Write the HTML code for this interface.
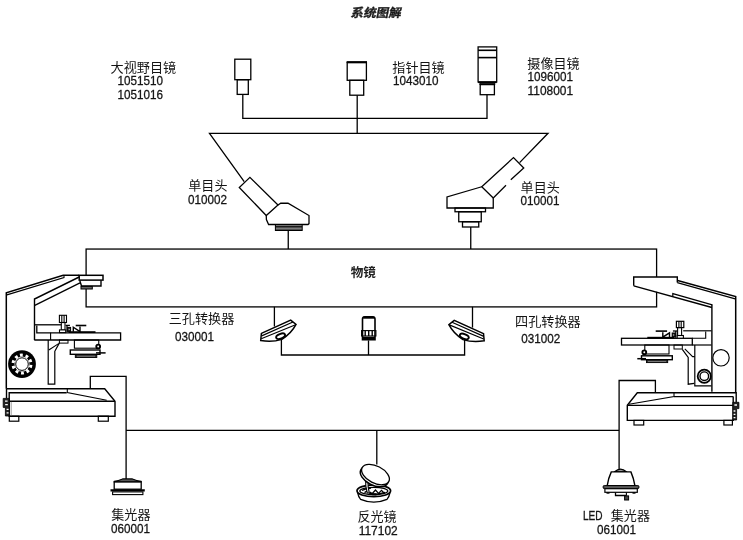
<!DOCTYPE html>
<html lang="zh"><head><meta charset="utf-8"><title>系统图解</title><style>html,body{margin:0;padding:0;background:#fff;}body{width:743px;height:540px;overflow:hidden;font-family:"Liberation Sans",sans-serif;}svg{display:block;will-change:transform;} </style></head><body>
<svg width="743" height="540" viewBox="0 0 743 540" font-family="'Liberation Sans', sans-serif" stroke="#000" stroke-linecap="butt" stroke-linejoin="miter"><g><text x="351.56" y="16.52" font-size="12" font-weight="bold" font-family="'Liberation Sans', 'Noto Sans CJK SC', sans-serif" textLength="50.25" lengthAdjust="spacingAndGlyphs" fill="#1a1a1a" stroke="#1a1a1a" stroke-width="0.35" transform="translate(0,11.72) skewX(-11) translate(0,-11.72)">系统图解</text>
<rect x="234.80" y="59.20" width="16.00" height="20.50" fill="none" stroke-width="1.3"/>
<rect x="237.20" y="79.70" width="11.10" height="14.70" fill="none" stroke-width="1.3"/>
<path d="M242.80 94.40 L242.80 118.30 L487.00 118.30 L487.00 94.70" fill="none" stroke-width="1.3" />
<rect x="347.20" y="62.60" width="19.20" height="17.70" fill="none" stroke-width="1.3"/>
<path d="M346.60 62.10 L367.00 62.10" fill="none" stroke-width="2.0" />
<rect x="349.80" y="80.30" width="13.90" height="14.90" fill="none" stroke-width="1.3"/>
<path d="M357.20 95.20 L357.20 133.30" fill="none" stroke-width="1.3" />
<rect x="478.10" y="46.90" width="18.60" height="35.10" fill="none" stroke-width="1.3"/>
<path d="M478.10 50.30 L496.70 50.30" fill="none" stroke-width="1.6" />
<path d="M478.10 57.60 L496.70 57.60" fill="none" stroke-width="1.6" />
<path d="M478.10 82.20 L496.70 82.20" fill="none" stroke-width="1.8" />
<rect x="479.90" y="83.20" width="14.90" height="1.40" fill="#222" stroke-width="0.8"/>
<rect x="480.20" y="84.60" width="14.20" height="10.10" fill="none" stroke-width="1.3"/>
<path d="M244.20 181.60 L209.50 133.30 L548.00 133.30 L519.60 162.60" fill="none" stroke-width="1.3" />
<path d="M249.90 177.40 L239.30 187.50 L266.25 215.50 L278.00 205.00Z" fill="none" stroke-width="1.3" />
<path d="M278.00 205.00 L280.75 203.25 L288.00 203.25 L309.00 215.50 L309.00 223.60 L308.00 224.50 L268.60 224.50 L266.40 219.50 L266.25 215.50" fill="none" stroke-width="1.3" />
<rect x="275.40" y="225.00" width="26.80" height="5.50" fill="#fff" stroke-width="1.0"/>
<path d="M275.40 226.40 L302.20 226.40" fill="none" stroke-width="1.0" />
<path d="M275.40 227.80 L302.20 227.80" fill="none" stroke-width="1.0" />
<path d="M275.40 229.20 L302.20 229.20" fill="none" stroke-width="1.0" />
<path d="M288.25 230.50 L288.25 249.05" fill="none" stroke-width="1.3" />
<path d="M493.25 198.00 L481.75 186.75 L513.50 157.60 L523.75 168.00 L510.80 179.80" fill="none" stroke-width="1.3" />
<path d="M506.00 185.20 L493.25 198.00" fill="none" stroke-width="1.3" />
<path d="M481.75 186.75 L447.00 197.00 L447.00 208.00 L493.25 208.00 L493.25 198.00" fill="none" stroke-width="1.3" />
<rect x="455.00" y="208.00" width="30.50" height="3.75" fill="none" stroke-width="1.3"/>
<rect x="458.75" y="211.75" width="22.50" height="10.00" fill="none" stroke-width="1.3"/>
<rect x="462.50" y="221.75" width="16.25" height="5.25" fill="none" stroke-width="1.3"/>
<path d="M470.75 227.00 L470.75 249.05" fill="none" stroke-width="1.3" />
<rect x="86.10" y="249.05" width="570.50" height="57.85" fill="none" stroke-width="1.3"/>
<path d="M274.40 306.80 L274.40 326.50" fill="none" stroke-width="1.3" />
<path d="M472.50 306.80 L472.50 327.60" fill="none" stroke-width="1.3" />
<path d="M281.40 338.30 L281.40 355.00 L464.60 355.00 L464.60 338.80" fill="none" stroke-width="1.3" />
<path d="M368.50 340.40 L368.50 355.00" fill="none" stroke-width="1.3" />
<g><path d="M261.4 333.4 L290.7 320.1 L296.05 324.45 Q291.5 333.2 281.9 339.4 Q272 342.6 260.7 340.6 Z" fill="#fff" stroke-width="1.5"/><path d="M261.7 335.9 L292.9 322.0 M261.2 338.8 L295.6 324.7" fill="none" stroke-width="1.15"/><ellipse cx="280.6" cy="336.2" rx="4.7" ry="2.3" transform="rotate(-22 280.6 336.2)" fill="#fff" stroke-width="1.9"/></g>
<g transform="translate(744.9,0.2) scale(-1,1)"><path d="M261.4 333.4 L290.7 320.1 L296.05 324.45 Q291.5 333.2 281.9 339.4 Q272 342.6 260.7 340.6 Z" fill="#fff" stroke-width="1.5"/><path d="M261.7 335.9 L292.9 322.0 M261.2 338.8 L295.6 324.7" fill="none" stroke-width="1.15"/><ellipse cx="280.6" cy="336.2" rx="4.7" ry="2.3" transform="rotate(-22 280.6 336.2)" fill="#fff" stroke-width="1.9"/></g>
<path d="M362.5 339.8 L362.5 319 Q362.5 316.8 365 316.8 L372.5 316.8 Q375 316.8 375 319 L375 339.8 Z" fill="#fff" stroke-width="1.6"/>
<path d="M363.20 317.60 L374.30 317.60" fill="none" stroke-width="2.2" />
<rect x="361.60" y="330.60" width="14.30" height="5.40" fill="none" stroke-width="1.1"/>
<path d="M365.20 330.60 L365.20 336.00" fill="none" stroke-width="1.4" />
<path d="M368.70 330.60 L368.70 336.00" fill="none" stroke-width="1.4" />
<path d="M372.20 330.60 L372.20 336.00" fill="none" stroke-width="1.4" />
<path d="M362.50 338.40 L375.00 338.40" fill="none" stroke-width="3.2" />
<path d="M90.30 388.70 L90.30 376.40 L126.10 376.40 L126.10 478.90" fill="none" stroke-width="1.3" />
<path d="M126.10 430.40 L619.10 430.40" fill="none" stroke-width="1.3" />
<path d="M655.40 392.50 L655.40 380.50 L619.10 380.50 L619.10 469.80" fill="none" stroke-width="1.3" />
<path d="M376.80 430.40 L376.80 464.60" fill="none" stroke-width="1.3" />
<path d="M114.2 482 L114.2 481.4 Q118.5 480.6 122.6 478.9 L132.4 478.9 Q136.5 480.6 141.2 481.4 L141.2 482 Z" fill="#555" stroke-width="1.1"/>
<rect x="114.20" y="482.00" width="27.00" height="7.20" fill="#fff" stroke-width="1.3"/>
<path d="M110.50 490.40 L144.80 490.40" fill="none" stroke-width="2.3" />
<rect x="112.60" y="491.90" width="30.30" height="2.70" fill="#fff" stroke-width="1.1"/>
<path d="M357.6 492.5 Q358.6 497.5 360.6 499.4 Q373.8 505 387 499.4 Q389 497.5 390 492.5" fill="#fff" stroke-width="1.3"/>
<ellipse cx="373.8" cy="490.8" rx="16.8" ry="5.9" fill="#fff" stroke-width="1.7"/>
<ellipse cx="373.8" cy="491.0" rx="14.0" ry="3.7" fill="#fff" stroke-width="1.2"/>
<path d="M362 490.5 Q366 488.2 371 488 M364.5 492.6 L368 490.4 M372.5 493.2 L375.5 490 L378.5 493.4 L381.5 490.4 L384 493 M370 493.6 Q377 495.2 385 492.4" fill="none" stroke-width="1.3"/>
<path d="M369.5 492.5 L372.5 494.2 L376.5 494.4" fill="none" stroke-width="2.2"/>
<path d="M365.6 479 Q365.2 486.5 367.3 493 L369.3 493 Q367.6 486.5 368 480 Z" fill="#fff" stroke-width="1.1"/>
<ellipse cx="374.2" cy="476.6" rx="15" ry="8.6" transform="rotate(27 374.2 476.6)" fill="#fff" stroke-width="1.5"/>
<ellipse cx="375.5" cy="474.6" rx="15" ry="8.5" transform="rotate(27 375.5 474.6)" fill="#fff" stroke-width="1.3"/>
<path d="M614.6 471.8 Q620.5 466.4 626.4 471.8 Z" fill="#999" stroke-width="1.2"/>
<path d="M611.3 471.9 L630.9 471.9 Q633.6 478 634.9 485.6 L607.2 485.6 Q608.4 478 611.3 471.9 Z" fill="#fff" stroke-width="1.4"/>
<rect x="603.1" y="485.5" width="35.9" height="3.1" rx="1.2" fill="#333" stroke-width="0.9"/>
<path d="M604.40 487.05 L637.80 487.05" fill="none" stroke-width="0.5" stroke="#bbb"/>
<rect x="604.90" y="488.70" width="32.40" height="3.60" fill="#fff" stroke-width="1.2"/>
<path d="M606.50 493.00 L609.50 493.00" fill="none" stroke-width="1.4" />
<path d="M632.50 493.00 L635.50 493.00" fill="none" stroke-width="1.4" />
<path d="M615.50 492.40 L615.50 495.50 L626.60 495.50" fill="none" stroke-width="1.3" />
<path d="M626.40 492.40 L626.40 495.50" fill="none" stroke-width="1.1" />
<rect x="624.60" y="495.90" width="4.00" height="4.10" fill="#444" stroke-width="1.0"/>
<text x="110.63" y="71.82" font-size="12.6" font-family="'Liberation Sans', 'Noto Sans CJK SC', sans-serif" textLength="65.6" lengthAdjust="spacingAndGlyphs" fill="#141414" stroke="none">大视野目镜</text>
<text x="117.60" y="85.40" font-size="13.0" textLength="45.50" lengthAdjust="spacingAndGlyphs" fill="#141414" stroke="#141414" stroke-width="0.3">1051510</text>
<text x="117.60" y="99.00" font-size="13.0" textLength="45.50" lengthAdjust="spacingAndGlyphs" fill="#141414" stroke="#141414" stroke-width="0.3">1051016</text>
<text x="392.34" y="71.82" font-size="12.6" font-family="'Liberation Sans', 'Noto Sans CJK SC', sans-serif" textLength="52.35" lengthAdjust="spacingAndGlyphs" fill="#141414" stroke="none">指针目镜</text>
<text x="393.00" y="85.30" font-size="13.0" textLength="45.50" lengthAdjust="spacingAndGlyphs" fill="#141414" stroke="#141414" stroke-width="0.3">1043010</text>
<text x="527.34" y="68.01" font-size="12.6" font-family="'Liberation Sans', 'Noto Sans CJK SC', sans-serif" textLength="52.35" lengthAdjust="spacingAndGlyphs" fill="#141414" stroke="none">摄像目镜</text>
<text x="527.60" y="81.00" font-size="13.0" textLength="45.50" lengthAdjust="spacingAndGlyphs" fill="#141414" stroke="#141414" stroke-width="0.3">1096001</text>
<text x="527.60" y="94.70" font-size="13.0" textLength="45.50" lengthAdjust="spacingAndGlyphs" fill="#141414" stroke="#141414" stroke-width="0.3">1108001</text>
<text x="188.33" y="190.12" font-size="12.6" font-family="'Liberation Sans', 'Noto Sans CJK SC', sans-serif" textLength="39.1" lengthAdjust="spacingAndGlyphs" fill="#141414" stroke="none">单目头</text>
<text x="188.00" y="203.60" font-size="13.0" textLength="39.00" lengthAdjust="spacingAndGlyphs" fill="#141414" stroke="#141414" stroke-width="0.3">010002</text>
<text x="520.63" y="191.72" font-size="12.6" font-family="'Liberation Sans', 'Noto Sans CJK SC', sans-serif" textLength="39.1" lengthAdjust="spacingAndGlyphs" fill="#141414" stroke="none">单目头</text>
<text x="520.40" y="205.20" font-size="13.0" textLength="39.00" lengthAdjust="spacingAndGlyphs" fill="#141414" stroke="#141414" stroke-width="0.3">010001</text>
<text x="350.75" y="276.97" font-size="12.3" font-weight="bold" font-family="'Liberation Sans', 'Noto Sans CJK SC', sans-serif" textLength="25.2" lengthAdjust="spacingAndGlyphs" fill="#222" stroke="none">物镜</text>
<text x="168.74" y="323.13" font-size="12.6" font-family="'Liberation Sans', 'Noto Sans CJK SC', sans-serif" textLength="65.6" lengthAdjust="spacingAndGlyphs" fill="#141414" stroke="none">三孔转换器</text>
<text x="175.00" y="340.70" font-size="13.0" textLength="39.00" lengthAdjust="spacingAndGlyphs" fill="#141414" stroke="#141414" stroke-width="0.3">030001</text>
<text x="515.14" y="325.52" font-size="12.6" font-family="'Liberation Sans', 'Noto Sans CJK SC', sans-serif" textLength="65.6" lengthAdjust="spacingAndGlyphs" fill="#141414" stroke="none">四孔转换器</text>
<text x="521.30" y="342.50" font-size="13.0" textLength="39.00" lengthAdjust="spacingAndGlyphs" fill="#141414" stroke="#141414" stroke-width="0.3">031002</text>
<text x="111.33" y="519.32" font-size="12.6" font-family="'Liberation Sans', 'Noto Sans CJK SC', sans-serif" textLength="39.1" lengthAdjust="spacingAndGlyphs" fill="#141414" stroke="none">集光器</text>
<text x="111.00" y="532.70" font-size="13.0" textLength="39.00" lengthAdjust="spacingAndGlyphs" fill="#141414" stroke="#141414" stroke-width="0.3">060001</text>
<text x="357.54" y="521.02" font-size="12.6" font-family="'Liberation Sans', 'Noto Sans CJK SC', sans-serif" textLength="39.1" lengthAdjust="spacingAndGlyphs" fill="#141414" stroke="none">反光镜</text>
<text x="358.70" y="534.60" font-size="13.0" textLength="39.00" lengthAdjust="spacingAndGlyphs" fill="#141414" stroke="#141414" stroke-width="0.3">117102</text>
<text x="583.00" y="519.90" font-size="13.0" textLength="19.60" lengthAdjust="spacingAndGlyphs" fill="#141414" stroke="#141414" stroke-width="0.3">LED</text>
<text x="610.84" y="520.22" font-size="12.6" font-family="'Liberation Sans', 'Noto Sans CJK SC', sans-serif" textLength="39.1" lengthAdjust="spacingAndGlyphs" fill="#141414" stroke="none">集光器</text>
<text x="596.90" y="533.50" font-size="13.0" textLength="39.00" lengthAdjust="spacingAndGlyphs" fill="#141414" stroke="#141414" stroke-width="0.3">061001</text>
<path d="M6.30 388.70 L6.30 292.80 L63.20 275.30 L79.20 275.30" fill="none" stroke-width="1.5" />
<path d="M6.90 294.90 L64.00 277.60 L64.00 275.30" fill="none" stroke-width="1.1" />
<path d="M79.70 280.30 L81.50 286.00 L101.00 286.00 L101.00 280.30" fill="#fff" stroke-width="1.4" />
<rect x="79.20" y="275.30" width="23.80" height="4.80" fill="#fff" stroke-width="1.5"/>
<rect x="81.00" y="286.40" width="11.30" height="2.60" fill="#666" stroke-width="1.0"/>
<path d="M34.50 340.00 L34.50 299.00 L79.20 277.00" fill="none" stroke-width="1.4" />
<path d="M34.80 305.40 L80.00 282.80" fill="none" stroke-width="1.3" />
<path d="M34.30 324.80 L61.50 324.80" fill="none" stroke-width="1.3" />
<path d="M36.80 325.60 L36.80 332.80 L120.60 332.80 L120.60 340.00 L34.30 340.00" fill="none" stroke-width="1.3" />
<path d="M50.60 332.80 L50.60 340.00" fill="none" stroke-width="1.1" />
<rect x="59.40" y="315.30" width="7.10" height="7.20" fill="#fff" stroke-width="1.1"/>
<path d="M61.80 315.30 L61.80 322.50" fill="none" stroke-width="1.1" />
<path d="M64.10 315.30 L64.10 322.50" fill="none" stroke-width="1.1" />
<rect x="61.30" y="322.50" width="3.70" height="7.50" fill="none" stroke-width="1.1"/>
<rect x="59.50" y="329.90" width="6.20" height="2.70" fill="#fff" stroke-width="1.1"/>
<path d="M65.60 325.40 L69.90 325.40" fill="none" stroke-width="1.3" />
<path d="M67.00 325.40 L67.00 332.20" fill="none" stroke-width="1.3" />
<rect x="67.60" y="327.40" width="3.00" height="4.00" fill="#222" stroke-width="1.0"/>
<path d="M68.60 329.40 L69.80 329.40" fill="none" stroke-width="0.8" stroke="#fff"/>
<path d="M73.30 331.80 L73.30 327.20 L80.00 331.60 L80.00 326.60" fill="none" stroke-width="1.4" />
<path d="M75.70 325.50 L86.30 325.50" fill="none" stroke-width="1.6" />
<path d="M68.50 332.10 L95.50 332.10" fill="none" stroke-width="1.8" />
<path d="M48.20 340.00 L48.20 384.20 L54.80 384.20 L54.80 351.30 L59.40 342.90" fill="none" stroke-width="1.2" />
<path d="M48.80 350.00 L58.60 343.60" fill="none" stroke-width="1.1" />
<rect x="59.40" y="340.00" width="8.60" height="3.10" fill="none" stroke-width="1.0"/>
<rect x="74.40" y="340.00" width="24.35" height="8.20" fill="none" stroke-width="1.1"/>
<rect x="70.30" y="350.00" width="29.70" height="4.30" fill="none" stroke-width="1.4"/>
<rect x="75.30" y="354.80" width="21.50" height="2.70" fill="#333" stroke-width="0.9"/>
<path d="M77.00 356.20 L95.00 356.20" fill="none" stroke-width="0.5" stroke="#ccc"/>
<circle cx="98.2" cy="346.5" r="1.9" fill="#fff" stroke-width="1.9"/>
<path d="M96.00 352.90 L105.60 352.90" fill="none" stroke-width="1.5" />
<circle cx="22" cy="364.1" r="13.9" fill="#000" stroke="none"/>
<circle cx="22" cy="364.1" r="9.0" fill="none" stroke-width="3.0" stroke="#fff" stroke-dasharray="2.8 2.855" transform="rotate(-103 22 364.1)"/>
<circle cx="22" cy="364.1" r="7.5" fill="#fff" stroke="none"/>
<circle cx="22" cy="364.1" r="6.3" fill="#fff" stroke-width="1.0"/>
<path d="M6.30 388.70 L104.70 388.70 L115.00 401.30 L115.00 416.20 L9.20 416.20 L9.20 392.70 L66.70 392.70" fill="none" stroke-width="1.4" />
<path d="M6.50 388.70 L6.50 398.40" fill="none" stroke-width="1.4" />
<path d="M9.20 401.30 L115.00 401.30" fill="none" stroke-width="1.4" />
<path d="M67.30 388.70 L67.30 392.50 L106.70 400.20" fill="none" stroke-width="1.1" />
<rect x="9.30" y="416.20" width="9.50" height="5.00" fill="none" stroke-width="1.2"/>
<rect x="98.30" y="416.20" width="10.00" height="5.00" fill="none" stroke-width="1.2"/>
<path d="M9.2 398.4 L3.2 398.4 L3.2 407.4 L5.4 407.4 L5.4 416 L9.2 416 Z" fill="#222" stroke-width="0.8"/>
<path d="M5 401.2 L7.6 401.2 M5.2 404.6 L7.8 404.6 M6.6 409.4 L8.6 409.4 M6.6 412.8 L8.6 412.8" stroke="#fff" stroke-width="1.3" fill="none"/>
<path d="M11.20 401.80 L11.20 415.60" fill="none" stroke-width="0.7" stroke="#777"/>
<path d="M633.7 277 L676.5 277 L676.5 281.6 L735.3 297.5 L735.3 392.5 L711.5 392.5 L711.5 306.6 L633.7 285.8 Z" fill="#fff" stroke="none"/>
<path d="M633.70 285.80 L633.70 277.00 L677.30 277.00 L677.30 282.50" fill="none" stroke-width="1.4" />
<path d="M677.60 280.50 L735.70 296.50 L735.70 392.50" fill="none" stroke-width="1.5" />
<path d="M677.30 282.60 L735.20 298.90" fill="none" stroke-width="1.1" />
<path d="M633.70 285.80 L711.90 307.50" fill="none" stroke-width="1.4" />
<path d="M711.90 304.60 L711.90 391.70" fill="none" stroke-width="1.4" />
<path d="M672.80 296.70 L672.80 293.60 L712.30 304.80" fill="none" stroke-width="1.2" />
<rect x="621.50" y="338.30" width="70.80" height="6.70" fill="none" stroke-width="1.3"/>
<path d="M692.30 345.00 L711.50 345.00" fill="none" stroke-width="1.2" />
<path d="M683.20 330.80 L711.50 330.80" fill="none" stroke-width="1.2" />
<path d="M705.70 331.60 L705.70 338.30 L692.30 338.30" fill="none" stroke-width="1.1" />
<rect x="676.40" y="321.30" width="7.40" height="6.30" fill="#fff" stroke-width="1.2"/>
<path d="M678.90 321.30 L678.90 327.60" fill="none" stroke-width="1.1" />
<path d="M681.20 321.30 L681.20 327.60" fill="none" stroke-width="1.1" />
<rect x="677.60" y="327.60" width="4.00" height="8.00" fill="none" stroke-width="1.1"/>
<rect x="677.20" y="335.50" width="6.20" height="2.70" fill="#fff" stroke-width="1.1"/>
<path d="M677.20 331.00 L672.90 331.00" fill="none" stroke-width="1.3" />
<path d="M675.80 331.00 L675.80 337.80" fill="none" stroke-width="1.3" />
<rect x="672.20" y="333.00" width="3.00" height="4.00" fill="#222" stroke-width="1.0"/>
<path d="M673.00 335.00 L674.20 335.00" fill="none" stroke-width="0.8" stroke="#fff"/>
<path d="M669.50 337.40 L669.50 332.80 L662.80 337.20 L662.80 332.20" fill="none" stroke-width="1.4" />
<path d="M667.10 331.10 L655.70 331.10" fill="none" stroke-width="1.6" />
<path d="M674.30 337.70 L647.30 337.70" fill="none" stroke-width="1.8" />
<rect x="674.00" y="345.00" width="8.30" height="4.00" fill="none" stroke-width="1.0"/>
<path d="M694.80 345.00 L694.80 385.80 L711.50 385.80" fill="none" stroke-width="1.2" />
<path d="M682.30 349.40 L688.20 357.50 L688.20 384.20 L694.20 383.30" fill="none" stroke-width="1.2" />
<path d="M684.80 348.80 L692.60 356.60 L694.80 356.60" fill="none" stroke-width="1.1" />
<circle cx="721" cy="357.8" r="8.2" fill="#fff" stroke-width="1.2"/>
<circle cx="704.3" cy="376.2" r="6.6" fill="#fff" stroke-width="1.8"/>
<circle cx="704.3" cy="376.2" r="4.3" fill="#fff" stroke-width="1.4"/>
<rect x="644.80" y="345.00" width="24.20" height="9.00" fill="none" stroke-width="1.1"/>
<rect x="641.50" y="355.80" width="30.80" height="3.90" fill="none" stroke-width="1.4"/>
<rect x="646.50" y="360.00" width="21.20" height="2.60" fill="#333" stroke-width="0.9"/>
<path d="M648.00 361.40 L666.00 361.40" fill="none" stroke-width="0.5" stroke="#ccc"/>
<circle cx="644.3" cy="352.3" r="1.9" fill="#fff" stroke-width="1.9"/>
<path d="M637.30 358.70 L646.00 358.70" fill="none" stroke-width="1.5" />
<path d="M736.20 402.40 L736.20 392.70 L637.30 392.70 L627.30 405.30 L627.30 420.40 L733.20 420.40 L733.20 396.60" fill="none" stroke-width="1.4" />
<path d="M674.00 396.60 L733.20 396.60" fill="none" stroke-width="1.3" />
<path d="M627.30 405.40 L733.20 405.40" fill="none" stroke-width="1.4" />
<path d="M674.00 392.50 L674.00 396.60 L629.00 404.20" fill="none" stroke-width="1.1" />
<rect x="634.00" y="420.40" width="9.70" height="4.60" fill="none" stroke-width="1.2"/>
<rect x="723.90" y="420.40" width="8.50" height="4.60" fill="none" stroke-width="1.2"/>
<path d="M732.8 402.3 L738.9 402.3 L738.9 408.6 L736.6 408.6 L736.6 420 L732.8 420 Z" fill="#222" stroke-width="0.8"/>
<path d="M734.4 405 L737 405 M733.6 411 L735.4 411 M733.6 414.4 L735.4 414.4 M733.6 417.6 L735.4 417.6" stroke="#fff" stroke-width="1.3" fill="none"/></g></svg>
</body></html>
